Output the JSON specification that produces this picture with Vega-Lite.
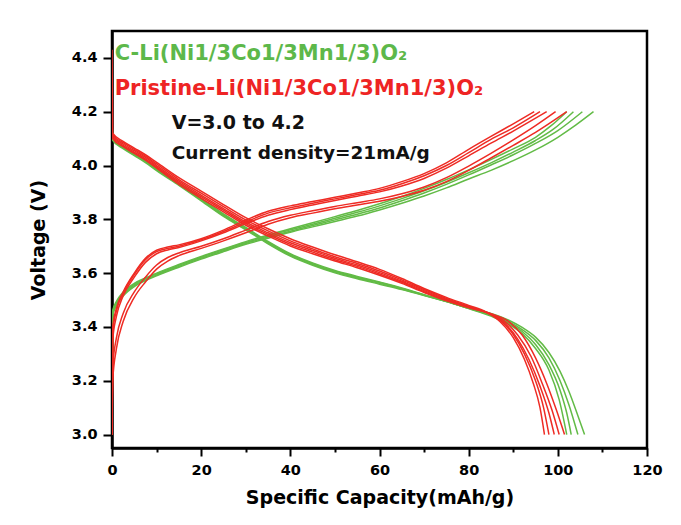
{
  "$schema": "https://vega.github.io/schema/vega-lite/v6.json",
  "width": 535,
  "height": 417,
  "autosize": {"type": "none"},
  "padding": {"left": 112, "top": 31, "right": 34, "bottom": 77},
  "background": "white",
  "config": {
    "view": {"stroke": "black", "strokeWidth": 2.5},
    "font": "DejaVu Sans",
    "axis": {
      "grid": false,
      "domainColor": "black",
      "domainWidth": 2.5,
      "tickColor": "black",
      "tickWidth": 2,
      "labelColor": "black",
      "labelFont": "DejaVu Sans",
      "labelFontWeight": "bold",
      "labelFontSize": 14.5,
      "labelFlush": false,
      "labelOverlap": false,
      "titleColor": "black",
      "titleFont": "DejaVu Sans",
      "titleFontWeight": "bold",
      "titleFontSize": 19
    }
  },
  "datasets": {
    "curves": [
      {"s":"C","c":"CC1","x":0,"v":3.0},{"s":"C","c":"CC1","x":0.15,"v":3.46},{"s":"C","c":"CC1","x":1,"v":3.495},{"s":"C","c":"CC1","x":2.5,"v":3.53},{"s":"C","c":"CC1","x":5,"v":3.562},{"s":"C","c":"CC1","x":7.5,"v":3.582},{"s":"C","c":"CC1","x":10,"v":3.6},{"s":"C","c":"CC1","x":15,"v":3.632},{"s":"C","c":"CC1","x":20,"v":3.662},{"s":"C","c":"CC1","x":25,"v":3.69},{"s":"C","c":"CC1","x":30,"v":3.717},{"s":"C","c":"CC1","x":35,"v":3.742},{"s":"C","c":"CC1","x":40,"v":3.765},{"s":"C","c":"CC1","x":45,"v":3.787},{"s":"C","c":"CC1","x":50,"v":3.81},{"s":"C","c":"CC1","x":55,"v":3.833},{"s":"C","c":"CC1","x":60,"v":3.858},{"s":"C","c":"CC1","x":65,"v":3.885},{"s":"C","c":"CC1","x":70,"v":3.915},{"s":"C","c":"CC1","x":75,"v":3.948},{"s":"C","c":"CC1","x":80,"v":3.984},{"s":"C","c":"CC1","x":85,"v":4.022},{"s":"C","c":"CC1","x":90,"v":4.062},{"s":"C","c":"CC1","x":95,"v":4.105},{"s":"C","c":"CC1","x":98.5,"v":4.148},{"s":"C","c":"CC1","x":102,"v":4.2},
      {"s":"C","c":"CC2","x":0,"v":3.0},{"s":"C","c":"CC2","x":0.15,"v":3.455},{"s":"C","c":"CC2","x":1,"v":3.49},{"s":"C","c":"CC2","x":2.5,"v":3.525},{"s":"C","c":"CC2","x":5,"v":3.558},{"s":"C","c":"CC2","x":7.5,"v":3.579},{"s":"C","c":"CC2","x":10,"v":3.597},{"s":"C","c":"CC2","x":15,"v":3.629},{"s":"C","c":"CC2","x":20,"v":3.659},{"s":"C","c":"CC2","x":25,"v":3.687},{"s":"C","c":"CC2","x":30,"v":3.714},{"s":"C","c":"CC2","x":35,"v":3.738},{"s":"C","c":"CC2","x":40,"v":3.761},{"s":"C","c":"CC2","x":45,"v":3.782},{"s":"C","c":"CC2","x":50,"v":3.804},{"s":"C","c":"CC2","x":55,"v":3.826},{"s":"C","c":"CC2","x":60,"v":3.85},{"s":"C","c":"CC2","x":65,"v":3.877},{"s":"C","c":"CC2","x":70,"v":3.906},{"s":"C","c":"CC2","x":75,"v":3.938},{"s":"C","c":"CC2","x":80,"v":3.973},{"s":"C","c":"CC2","x":85,"v":4.01},{"s":"C","c":"CC2","x":90,"v":4.05},{"s":"C","c":"CC2","x":95,"v":4.093},{"s":"C","c":"CC2","x":99,"v":4.135},{"s":"C","c":"CC2","x":103.5,"v":4.2},
      {"s":"C","c":"CC3","x":0,"v":3.0},{"s":"C","c":"CC3","x":0.15,"v":3.448},{"s":"C","c":"CC3","x":1,"v":3.485},{"s":"C","c":"CC3","x":2.5,"v":3.52},{"s":"C","c":"CC3","x":5,"v":3.554},{"s":"C","c":"CC3","x":7.5,"v":3.575},{"s":"C","c":"CC3","x":10,"v":3.593},{"s":"C","c":"CC3","x":15,"v":3.625},{"s":"C","c":"CC3","x":20,"v":3.655},{"s":"C","c":"CC3","x":25,"v":3.683},{"s":"C","c":"CC3","x":30,"v":3.71},{"s":"C","c":"CC3","x":35,"v":3.734},{"s":"C","c":"CC3","x":40,"v":3.756},{"s":"C","c":"CC3","x":45,"v":3.777},{"s":"C","c":"CC3","x":50,"v":3.798},{"s":"C","c":"CC3","x":55,"v":3.819},{"s":"C","c":"CC3","x":60,"v":3.842},{"s":"C","c":"CC3","x":65,"v":3.869},{"s":"C","c":"CC3","x":70,"v":3.898},{"s":"C","c":"CC3","x":75,"v":3.93},{"s":"C","c":"CC3","x":80,"v":3.965},{"s":"C","c":"CC3","x":85,"v":4.002},{"s":"C","c":"CC3","x":90,"v":4.04},{"s":"C","c":"CC3","x":95,"v":4.082},{"s":"C","c":"CC3","x":100,"v":4.13},{"s":"C","c":"CC3","x":105.5,"v":4.2},
      {"s":"C","c":"CC4","x":0,"v":3.0},{"s":"C","c":"CC4","x":0.15,"v":3.44},{"s":"C","c":"CC4","x":1,"v":3.48},{"s":"C","c":"CC4","x":2.5,"v":3.515},{"s":"C","c":"CC4","x":5,"v":3.55},{"s":"C","c":"CC4","x":7.5,"v":3.572},{"s":"C","c":"CC4","x":10,"v":3.59},{"s":"C","c":"CC4","x":15,"v":3.622},{"s":"C","c":"CC4","x":20,"v":3.652},{"s":"C","c":"CC4","x":25,"v":3.68},{"s":"C","c":"CC4","x":30,"v":3.707},{"s":"C","c":"CC4","x":35,"v":3.73},{"s":"C","c":"CC4","x":40,"v":3.752},{"s":"C","c":"CC4","x":45,"v":3.772},{"s":"C","c":"CC4","x":50,"v":3.792},{"s":"C","c":"CC4","x":55,"v":3.812},{"s":"C","c":"CC4","x":60,"v":3.835},{"s":"C","c":"CC4","x":65,"v":3.86},{"s":"C","c":"CC4","x":70,"v":3.887},{"s":"C","c":"CC4","x":75,"v":3.917},{"s":"C","c":"CC4","x":80,"v":3.95},{"s":"C","c":"CC4","x":85,"v":3.982},{"s":"C","c":"CC4","x":90,"v":4.018},{"s":"C","c":"CC4","x":95,"v":4.058},{"s":"C","c":"CC4","x":100,"v":4.105},{"s":"C","c":"CC4","x":104,"v":4.15},{"s":"C","c":"CC4","x":108,"v":4.2},
      {"s":"C","c":"CD1","x":0,"v":4.2},{"s":"C","c":"CD1","x":0.15,"v":4.1},{"s":"C","c":"CD1","x":2.5,"v":4.07},{"s":"C","c":"CD1","x":5,"v":4.045},{"s":"C","c":"CD1","x":7.5,"v":4.02},{"s":"C","c":"CD1","x":10,"v":3.99},{"s":"C","c":"CD1","x":15,"v":3.935},{"s":"C","c":"CD1","x":20,"v":3.878},{"s":"C","c":"CD1","x":25,"v":3.82},{"s":"C","c":"CD1","x":30,"v":3.77},{"s":"C","c":"CD1","x":35,"v":3.718},{"s":"C","c":"CD1","x":40,"v":3.672},{"s":"C","c":"CD1","x":45,"v":3.638},{"s":"C","c":"CD1","x":50,"v":3.61},{"s":"C","c":"CD1","x":55,"v":3.588},{"s":"C","c":"CD1","x":60,"v":3.567},{"s":"C","c":"CD1","x":65,"v":3.545},{"s":"C","c":"CD1","x":70,"v":3.52},{"s":"C","c":"CD1","x":75,"v":3.495},{"s":"C","c":"CD1","x":80,"v":3.468},{"s":"C","c":"CD1","x":85,"v":3.44},{"s":"C","c":"CD1","x":89,"v":3.41},{"s":"C","c":"CD1","x":92,"v":3.375},{"s":"C","c":"CD1","x":95,"v":3.32},{"s":"C","c":"CD1","x":98,"v":3.24},{"s":"C","c":"CD1","x":100.3,"v":3.13},{"s":"C","c":"CD1","x":102,"v":3.0},
      {"s":"C","c":"CD2","x":0,"v":4.19},{"s":"C","c":"CD2","x":0.15,"v":4.098},{"s":"C","c":"CD2","x":2.5,"v":4.068},{"s":"C","c":"CD2","x":5,"v":4.043},{"s":"C","c":"CD2","x":7.5,"v":4.017},{"s":"C","c":"CD2","x":10,"v":3.987},{"s":"C","c":"CD2","x":15,"v":3.932},{"s":"C","c":"CD2","x":20,"v":3.875},{"s":"C","c":"CD2","x":25,"v":3.817},{"s":"C","c":"CD2","x":30,"v":3.767},{"s":"C","c":"CD2","x":35,"v":3.715},{"s":"C","c":"CD2","x":40,"v":3.669},{"s":"C","c":"CD2","x":45,"v":3.635},{"s":"C","c":"CD2","x":50,"v":3.607},{"s":"C","c":"CD2","x":55,"v":3.585},{"s":"C","c":"CD2","x":60,"v":3.565},{"s":"C","c":"CD2","x":65,"v":3.543},{"s":"C","c":"CD2","x":70,"v":3.519},{"s":"C","c":"CD2","x":75,"v":3.495},{"s":"C","c":"CD2","x":80,"v":3.469},{"s":"C","c":"CD2","x":85,"v":3.443},{"s":"C","c":"CD2","x":89,"v":3.415},{"s":"C","c":"CD2","x":92,"v":3.383},{"s":"C","c":"CD2","x":95,"v":3.335},{"s":"C","c":"CD2","x":98,"v":3.26},{"s":"C","c":"CD2","x":100.5,"v":3.165},{"s":"C","c":"CD2","x":102,"v":3.08},{"s":"C","c":"CD2","x":103,"v":3.0},
      {"s":"C","c":"CD3","x":0,"v":4.18},{"s":"C","c":"CD3","x":0.15,"v":4.096},{"s":"C","c":"CD3","x":2.5,"v":4.066},{"s":"C","c":"CD3","x":5,"v":4.04},{"s":"C","c":"CD3","x":7.5,"v":4.014},{"s":"C","c":"CD3","x":10,"v":3.984},{"s":"C","c":"CD3","x":15,"v":3.929},{"s":"C","c":"CD3","x":20,"v":3.872},{"s":"C","c":"CD3","x":25,"v":3.814},{"s":"C","c":"CD3","x":30,"v":3.764},{"s":"C","c":"CD3","x":35,"v":3.712},{"s":"C","c":"CD3","x":40,"v":3.666},{"s":"C","c":"CD3","x":45,"v":3.632},{"s":"C","c":"CD3","x":50,"v":3.604},{"s":"C","c":"CD3","x":55,"v":3.582},{"s":"C","c":"CD3","x":60,"v":3.562},{"s":"C","c":"CD3","x":65,"v":3.541},{"s":"C","c":"CD3","x":70,"v":3.518},{"s":"C","c":"CD3","x":75,"v":3.494},{"s":"C","c":"CD3","x":80,"v":3.47},{"s":"C","c":"CD3","x":85,"v":3.446},{"s":"C","c":"CD3","x":89,"v":3.42},{"s":"C","c":"CD3","x":92,"v":3.39},{"s":"C","c":"CD3","x":95,"v":3.35},{"s":"C","c":"CD3","x":98,"v":3.285},{"s":"C","c":"CD3","x":100.5,"v":3.2},{"s":"C","c":"CD3","x":102.5,"v":3.11},{"s":"C","c":"CD3","x":104.5,"v":3.0},
      {"s":"C","c":"CD4","x":0,"v":4.17},{"s":"C","c":"CD4","x":0.15,"v":4.094},{"s":"C","c":"CD4","x":2.5,"v":4.063},{"s":"C","c":"CD4","x":5,"v":4.037},{"s":"C","c":"CD4","x":7.5,"v":4.011},{"s":"C","c":"CD4","x":10,"v":3.981},{"s":"C","c":"CD4","x":15,"v":3.926},{"s":"C","c":"CD4","x":20,"v":3.869},{"s":"C","c":"CD4","x":25,"v":3.811},{"s":"C","c":"CD4","x":30,"v":3.761},{"s":"C","c":"CD4","x":35,"v":3.709},{"s":"C","c":"CD4","x":40,"v":3.663},{"s":"C","c":"CD4","x":45,"v":3.629},{"s":"C","c":"CD4","x":50,"v":3.601},{"s":"C","c":"CD4","x":55,"v":3.579},{"s":"C","c":"CD4","x":60,"v":3.559},{"s":"C","c":"CD4","x":65,"v":3.539},{"s":"C","c":"CD4","x":70,"v":3.517},{"s":"C","c":"CD4","x":75,"v":3.494},{"s":"C","c":"CD4","x":80,"v":3.471},{"s":"C","c":"CD4","x":85,"v":3.45},{"s":"C","c":"CD4","x":89,"v":3.425},{"s":"C","c":"CD4","x":92,"v":3.398},{"s":"C","c":"CD4","x":95,"v":3.362},{"s":"C","c":"CD4","x":98,"v":3.305},{"s":"C","c":"CD4","x":100.5,"v":3.235},{"s":"C","c":"CD4","x":102.5,"v":3.16},{"s":"C","c":"CD4","x":104.5,"v":3.07},{"s":"C","c":"CD4","x":106,"v":3.0},
      {"s":"P","c":"PC1","x":0,"v":3.0},{"s":"P","c":"PC1","x":0.15,"v":3.4},{"s":"P","c":"PC1","x":1,"v":3.47},{"s":"P","c":"PC1","x":2.5,"v":3.53},{"s":"P","c":"PC1","x":5,"v":3.6},{"s":"P","c":"PC1","x":7.5,"v":3.655},{"s":"P","c":"PC1","x":10,"v":3.685},{"s":"P","c":"PC1","x":12.5,"v":3.697},{"s":"P","c":"PC1","x":15,"v":3.705},{"s":"P","c":"PC1","x":20,"v":3.728},{"s":"P","c":"PC1","x":25,"v":3.76},{"s":"P","c":"PC1","x":30,"v":3.797},{"s":"P","c":"PC1","x":35,"v":3.83},{"s":"P","c":"PC1","x":40,"v":3.85},{"s":"P","c":"PC1","x":45,"v":3.866},{"s":"P","c":"PC1","x":50,"v":3.882},{"s":"P","c":"PC1","x":55,"v":3.898},{"s":"P","c":"PC1","x":60,"v":3.915},{"s":"P","c":"PC1","x":65,"v":3.94},{"s":"P","c":"PC1","x":70,"v":3.97},{"s":"P","c":"PC1","x":75,"v":4.01},{"s":"P","c":"PC1","x":80,"v":4.06},{"s":"P","c":"PC1","x":85,"v":4.108},{"s":"P","c":"PC1","x":90,"v":4.155},{"s":"P","c":"PC1","x":94.7,"v":4.2},
      {"s":"P","c":"PC2","x":0,"v":3.0},{"s":"P","c":"PC2","x":0.15,"v":3.38},{"s":"P","c":"PC2","x":1,"v":3.46},{"s":"P","c":"PC2","x":2.5,"v":3.525},{"s":"P","c":"PC2","x":5,"v":3.595},{"s":"P","c":"PC2","x":7.5,"v":3.65},{"s":"P","c":"PC2","x":10,"v":3.68},{"s":"P","c":"PC2","x":12.5,"v":3.692},{"s":"P","c":"PC2","x":15,"v":3.7},{"s":"P","c":"PC2","x":20,"v":3.724},{"s":"P","c":"PC2","x":25,"v":3.755},{"s":"P","c":"PC2","x":30,"v":3.79},{"s":"P","c":"PC2","x":35,"v":3.823},{"s":"P","c":"PC2","x":40,"v":3.843},{"s":"P","c":"PC2","x":45,"v":3.86},{"s":"P","c":"PC2","x":50,"v":3.876},{"s":"P","c":"PC2","x":55,"v":3.892},{"s":"P","c":"PC2","x":60,"v":3.908},{"s":"P","c":"PC2","x":65,"v":3.932},{"s":"P","c":"PC2","x":70,"v":3.962},{"s":"P","c":"PC2","x":75,"v":4.0},{"s":"P","c":"PC2","x":80,"v":4.048},{"s":"P","c":"PC2","x":85,"v":4.097},{"s":"P","c":"PC2","x":90,"v":4.14},{"s":"P","c":"PC2","x":96,"v":4.2},
      {"s":"P","c":"PC3","x":0,"v":3.0},{"s":"P","c":"PC3","x":0.15,"v":3.35},{"s":"P","c":"PC3","x":1,"v":3.44},{"s":"P","c":"PC3","x":2.5,"v":3.515},{"s":"P","c":"PC3","x":5,"v":3.585},{"s":"P","c":"PC3","x":7.5,"v":3.64},{"s":"P","c":"PC3","x":10,"v":3.672},{"s":"P","c":"PC3","x":12.5,"v":3.686},{"s":"P","c":"PC3","x":15,"v":3.695},{"s":"P","c":"PC3","x":20,"v":3.72},{"s":"P","c":"PC3","x":25,"v":3.75},{"s":"P","c":"PC3","x":30,"v":3.784},{"s":"P","c":"PC3","x":35,"v":3.815},{"s":"P","c":"PC3","x":40,"v":3.836},{"s":"P","c":"PC3","x":45,"v":3.853},{"s":"P","c":"PC3","x":50,"v":3.87},{"s":"P","c":"PC3","x":55,"v":3.886},{"s":"P","c":"PC3","x":60,"v":3.902},{"s":"P","c":"PC3","x":65,"v":3.924},{"s":"P","c":"PC3","x":70,"v":3.952},{"s":"P","c":"PC3","x":75,"v":3.99},{"s":"P","c":"PC3","x":80,"v":4.036},{"s":"P","c":"PC3","x":85,"v":4.083},{"s":"P","c":"PC3","x":90,"v":4.128},{"s":"P","c":"PC3","x":97.5,"v":4.2},
      {"s":"P","c":"PC4","x":0,"v":3.0},{"s":"P","c":"PC4","x":0.15,"v":3.25},{"s":"P","c":"PC4","x":1,"v":3.36},{"s":"P","c":"PC4","x":2.5,"v":3.45},{"s":"P","c":"PC4","x":5,"v":3.53},{"s":"P","c":"PC4","x":7.5,"v":3.585},{"s":"P","c":"PC4","x":10,"v":3.63},{"s":"P","c":"PC4","x":12.5,"v":3.658},{"s":"P","c":"PC4","x":15,"v":3.675},{"s":"P","c":"PC4","x":20,"v":3.7},{"s":"P","c":"PC4","x":25,"v":3.728},{"s":"P","c":"PC4","x":30,"v":3.76},{"s":"P","c":"PC4","x":35,"v":3.792},{"s":"P","c":"PC4","x":40,"v":3.815},{"s":"P","c":"PC4","x":45,"v":3.832},{"s":"P","c":"PC4","x":50,"v":3.848},{"s":"P","c":"PC4","x":55,"v":3.862},{"s":"P","c":"PC4","x":60,"v":3.876},{"s":"P","c":"PC4","x":65,"v":3.895},{"s":"P","c":"PC4","x":70,"v":3.92},{"s":"P","c":"PC4","x":75,"v":3.955},{"s":"P","c":"PC4","x":80,"v":3.998},{"s":"P","c":"PC4","x":85,"v":4.045},{"s":"P","c":"PC4","x":90,"v":4.095},{"s":"P","c":"PC4","x":95,"v":4.148},{"s":"P","c":"PC4","x":99.5,"v":4.2},
      {"s":"P","c":"PC5","x":0,"v":3.0},{"s":"P","c":"PC5","x":0.15,"v":3.2},{"s":"P","c":"PC5","x":1,"v":3.32},{"s":"P","c":"PC5","x":2.5,"v":3.42},{"s":"P","c":"PC5","x":5,"v":3.51},{"s":"P","c":"PC5","x":7.5,"v":3.567},{"s":"P","c":"PC5","x":10,"v":3.615},{"s":"P","c":"PC5","x":12.5,"v":3.645},{"s":"P","c":"PC5","x":15,"v":3.665},{"s":"P","c":"PC5","x":20,"v":3.692},{"s":"P","c":"PC5","x":25,"v":3.72},{"s":"P","c":"PC5","x":30,"v":3.75},{"s":"P","c":"PC5","x":35,"v":3.782},{"s":"P","c":"PC5","x":40,"v":3.806},{"s":"P","c":"PC5","x":45,"v":3.823},{"s":"P","c":"PC5","x":50,"v":3.839},{"s":"P","c":"PC5","x":55,"v":3.853},{"s":"P","c":"PC5","x":60,"v":3.867},{"s":"P","c":"PC5","x":65,"v":3.885},{"s":"P","c":"PC5","x":70,"v":3.908},{"s":"P","c":"PC5","x":75,"v":3.94},{"s":"P","c":"PC5","x":80,"v":3.982},{"s":"P","c":"PC5","x":85,"v":4.028},{"s":"P","c":"PC5","x":90,"v":4.075},{"s":"P","c":"PC5","x":95,"v":4.123},{"s":"P","c":"PC5","x":102,"v":4.2},
      {"s":"P","c":"PD1","x":0,"v":4.43},{"s":"P","c":"PD1","x":0.15,"v":4.12},{"s":"P","c":"PD1","x":2.5,"v":4.09},{"s":"P","c":"PD1","x":5,"v":4.065},{"s":"P","c":"PD1","x":7.5,"v":4.04},{"s":"P","c":"PD1","x":10,"v":4.012},{"s":"P","c":"PD1","x":15,"v":3.955},{"s":"P","c":"PD1","x":20,"v":3.905},{"s":"P","c":"PD1","x":25,"v":3.855},{"s":"P","c":"PD1","x":30,"v":3.806},{"s":"P","c":"PD1","x":35,"v":3.765},{"s":"P","c":"PD1","x":40,"v":3.728},{"s":"P","c":"PD1","x":45,"v":3.697},{"s":"P","c":"PD1","x":50,"v":3.668},{"s":"P","c":"PD1","x":55,"v":3.642},{"s":"P","c":"PD1","x":60,"v":3.614},{"s":"P","c":"PD1","x":65,"v":3.58},{"s":"P","c":"PD1","x":70,"v":3.543},{"s":"P","c":"PD1","x":75,"v":3.51},{"s":"P","c":"PD1","x":80,"v":3.48},{"s":"P","c":"PD1","x":84,"v":3.455},{"s":"P","c":"PD1","x":87,"v":3.42},{"s":"P","c":"PD1","x":90,"v":3.36},{"s":"P","c":"PD1","x":92.5,"v":3.28},{"s":"P","c":"PD1","x":94.5,"v":3.19},{"s":"P","c":"PD1","x":96,"v":3.1},{"s":"P","c":"PD1","x":97,"v":3.0},
      {"s":"P","c":"PD2","x":0,"v":4.14},{"s":"P","c":"PD2","x":0.15,"v":4.115},{"s":"P","c":"PD2","x":2.5,"v":4.085},{"s":"P","c":"PD2","x":5,"v":4.06},{"s":"P","c":"PD2","x":7.5,"v":4.035},{"s":"P","c":"PD2","x":10,"v":4.006},{"s":"P","c":"PD2","x":15,"v":3.948},{"s":"P","c":"PD2","x":20,"v":3.897},{"s":"P","c":"PD2","x":25,"v":3.847},{"s":"P","c":"PD2","x":30,"v":3.798},{"s":"P","c":"PD2","x":35,"v":3.757},{"s":"P","c":"PD2","x":40,"v":3.72},{"s":"P","c":"PD2","x":45,"v":3.69},{"s":"P","c":"PD2","x":50,"v":3.661},{"s":"P","c":"PD2","x":55,"v":3.636},{"s":"P","c":"PD2","x":60,"v":3.608},{"s":"P","c":"PD2","x":65,"v":3.575},{"s":"P","c":"PD2","x":70,"v":3.539},{"s":"P","c":"PD2","x":75,"v":3.506},{"s":"P","c":"PD2","x":80,"v":3.477},{"s":"P","c":"PD2","x":84,"v":3.453},{"s":"P","c":"PD2","x":87,"v":3.425},{"s":"P","c":"PD2","x":90,"v":3.372},{"s":"P","c":"PD2","x":92.5,"v":3.3},{"s":"P","c":"PD2","x":95,"v":3.2},{"s":"P","c":"PD2","x":96.8,"v":3.1},{"s":"P","c":"PD2","x":98,"v":3.0},
      {"s":"P","c":"PD3","x":0,"v":4.14},{"s":"P","c":"PD3","x":0.15,"v":4.11},{"s":"P","c":"PD3","x":2.5,"v":4.08},{"s":"P","c":"PD3","x":5,"v":4.055},{"s":"P","c":"PD3","x":7.5,"v":4.03},{"s":"P","c":"PD3","x":10,"v":4.0},{"s":"P","c":"PD3","x":15,"v":3.942},{"s":"P","c":"PD3","x":20,"v":3.89},{"s":"P","c":"PD3","x":25,"v":3.84},{"s":"P","c":"PD3","x":30,"v":3.79},{"s":"P","c":"PD3","x":35,"v":3.75},{"s":"P","c":"PD3","x":40,"v":3.713},{"s":"P","c":"PD3","x":45,"v":3.684},{"s":"P","c":"PD3","x":50,"v":3.655},{"s":"P","c":"PD3","x":55,"v":3.63},{"s":"P","c":"PD3","x":60,"v":3.602},{"s":"P","c":"PD3","x":65,"v":3.57},{"s":"P","c":"PD3","x":70,"v":3.535},{"s":"P","c":"PD3","x":75,"v":3.503},{"s":"P","c":"PD3","x":80,"v":3.475},{"s":"P","c":"PD3","x":85,"v":3.447},{"s":"P","c":"PD3","x":88,"v":3.415},{"s":"P","c":"PD3","x":91,"v":3.355},{"s":"P","c":"PD3","x":93.5,"v":3.28},{"s":"P","c":"PD3","x":96,"v":3.18},{"s":"P","c":"PD3","x":98,"v":3.08},{"s":"P","c":"PD3","x":99.2,"v":3.0},
      {"s":"P","c":"PD4","x":0,"v":4.13},{"s":"P","c":"PD4","x":0.15,"v":4.105},{"s":"P","c":"PD4","x":2.5,"v":4.075},{"s":"P","c":"PD4","x":5,"v":4.05},{"s":"P","c":"PD4","x":7.5,"v":4.025},{"s":"P","c":"PD4","x":10,"v":3.995},{"s":"P","c":"PD4","x":15,"v":3.936},{"s":"P","c":"PD4","x":20,"v":3.884},{"s":"P","c":"PD4","x":25,"v":3.834},{"s":"P","c":"PD4","x":30,"v":3.784},{"s":"P","c":"PD4","x":35,"v":3.744},{"s":"P","c":"PD4","x":40,"v":3.707},{"s":"P","c":"PD4","x":45,"v":3.678},{"s":"P","c":"PD4","x":50,"v":3.65},{"s":"P","c":"PD4","x":55,"v":3.625},{"s":"P","c":"PD4","x":60,"v":3.597},{"s":"P","c":"PD4","x":65,"v":3.566},{"s":"P","c":"PD4","x":70,"v":3.531},{"s":"P","c":"PD4","x":75,"v":3.5},{"s":"P","c":"PD4","x":80,"v":3.473},{"s":"P","c":"PD4","x":85,"v":3.448},{"s":"P","c":"PD4","x":88,"v":3.422},{"s":"P","c":"PD4","x":91,"v":3.37},{"s":"P","c":"PD4","x":94,"v":3.29},{"s":"P","c":"PD4","x":96.5,"v":3.19},{"s":"P","c":"PD4","x":98.7,"v":3.09},{"s":"P","c":"PD4","x":100.3,"v":3.0},
      {"s":"P","c":"PD5","x":0,"v":4.13},{"s":"P","c":"PD5","x":0.15,"v":4.1},{"s":"P","c":"PD5","x":2.5,"v":4.07},{"s":"P","c":"PD5","x":5,"v":4.045},{"s":"P","c":"PD5","x":7.5,"v":4.02},{"s":"P","c":"PD5","x":10,"v":3.99},{"s":"P","c":"PD5","x":15,"v":3.93},{"s":"P","c":"PD5","x":20,"v":3.878},{"s":"P","c":"PD5","x":25,"v":3.828},{"s":"P","c":"PD5","x":30,"v":3.778},{"s":"P","c":"PD5","x":35,"v":3.738},{"s":"P","c":"PD5","x":40,"v":3.701},{"s":"P","c":"PD5","x":45,"v":3.672},{"s":"P","c":"PD5","x":50,"v":3.645},{"s":"P","c":"PD5","x":55,"v":3.62},{"s":"P","c":"PD5","x":60,"v":3.592},{"s":"P","c":"PD5","x":65,"v":3.562},{"s":"P","c":"PD5","x":70,"v":3.528},{"s":"P","c":"PD5","x":75,"v":3.497},{"s":"P","c":"PD5","x":80,"v":3.471},{"s":"P","c":"PD5","x":85,"v":3.449},{"s":"P","c":"PD5","x":89,"v":3.42},{"s":"P","c":"PD5","x":92,"v":3.37},{"s":"P","c":"PD5","x":95,"v":3.285},{"s":"P","c":"PD5","x":97.5,"v":3.19},{"s":"P","c":"PD5","x":99.7,"v":3.09},{"s":"P","c":"PD5","x":101.5,"v":3.0}
    ]
  },
  "layer": [
    {
      "data": {"name": "curves"},
      "transform": [{"filter": "datum.s === 'C'"}],
      "mark": {"type": "line", "interpolate": "monotone", "strokeWidth": 1.5, "color": "#62bb46", "clip": true},
      "encoding": {
        "x": {
          "field": "x", "type": "quantitative",
          "scale": {"domain": [0, 120], "nice": false, "zero": false},
          "axis": {
            "values": [0, 10, 20, 30, 40, 50, 60, 70, 80, 90, 100, 110, 120],
            "labelExpr": "datum.value % 20 === 0 ? datum.label : ''",
            "tickSize": {"condition": {"test": "datum.value % 20 === 0", "value": 8}, "value": 4},
            "labelPadding": 7,
            "title": "Specific Capacity(mAh/g)",
            "titlePadding": 12
          }
        },
        "y": {
          "field": "v", "type": "quantitative",
          "scale": {"domain": [2.95, 4.5], "nice": false, "zero": false},
          "axis": {
            "values": [3.0, 3.1, 3.2, 3.3, 3.4, 3.5, 3.6, 3.7, 3.8, 3.9, 4.0, 4.1, 4.2, 4.3, 4.4],
            "format": ".1f",
            "labelExpr": "round(datum.value * 10) % 2 === 0 ? datum.label : ''",
            "tickSize": {"condition": {"test": "round(datum.value * 10) % 2 === 0", "value": 9}, "value": 5},
            "labelPadding": 6,
            "title": "Voltage (V)",
            "titlePadding": 23
          }
        },
        "detail": {"field": "c"}
      }
    },
    {
      "data": {"name": "curves"},
      "transform": [{"filter": "datum.s === 'P'"}],
      "mark": {"type": "line", "interpolate": "monotone", "strokeWidth": 1.5, "color": "#ee2b24", "clip": true},
      "encoding": {
        "x": {"field": "x", "type": "quantitative"},
        "y": {"field": "v", "type": "quantitative"},
        "detail": {"field": "c"}
      }
    },
    {
      "data": {"values": [{}]},
      "mark": {"type": "text", "text": "C-Li(Ni1/3Co1/3Mn1/3)O₂", "align": "left", "baseline": "middle", "font": "DejaVu Sans", "fontWeight": "bold", "fontSize": 21, "color": "#5db84a"},
      "encoding": {"x": {"datum": 0.6}, "y": {"datum": 4.413}}
    },
    {
      "data": {"values": [{}]},
      "mark": {"type": "text", "text": "Pristine-Li(Ni1/3Co1/3Mn1/3)O₂", "align": "left", "baseline": "middle", "font": "DejaVu Sans", "fontWeight": "bold", "fontSize": 21, "color": "#ee2424"},
      "encoding": {"x": {"datum": 0.6}, "y": {"datum": 4.284}}
    },
    {
      "data": {"values": [{}]},
      "mark": {"type": "text", "text": "V=3.0 to 4.2", "align": "left", "baseline": "middle", "font": "DejaVu Sans", "fontWeight": "bold", "fontSize": 19, "color": "#111111"},
      "encoding": {"x": {"datum": 13.4}, "y": {"datum": 4.158}}
    },
    {
      "data": {"values": [{}]},
      "mark": {"type": "text", "text": "Current density=21mA/g", "align": "left", "baseline": "middle", "font": "DejaVu Sans", "fontWeight": "bold", "fontSize": 18.5, "color": "#111111"},
      "encoding": {"x": {"datum": 13.4}, "y": {"datum": 4.046}}
    }
  ]
}
